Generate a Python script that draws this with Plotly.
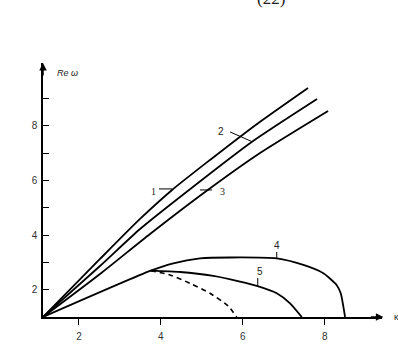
import plotly.graph_objects as go

# Curve data (kappa, Re omega)
c1_x = [1.123, 2.515, 3.492, 4.274, 5.201, 6.349, 7.594]
c1_y = [1.0, 3.125, 4.590, 5.652, 6.751, 8.070, 9.388]
c2_x = [1.123, 2.515, 3.492, 4.469, 6.227, 7.814]
c2_y = [1.0, 2.868, 4.223, 5.396, 7.420, 8.985]
c3_x = [1.123, 2.515, 3.736, 5.079, 6.422, 8.083]
c3_y = [1.0, 2.575, 4.040, 5.579, 7.007, 8.546]
c4_x = [1.123, 3.753, 4.305, 4.957, 5.690, 6.830, 7.480, 7.968, 8.291, 8.393, 8.457, 8.498]
c4_y = [1.0, 2.696, 2.967, 3.143, 3.179, 3.143, 2.905, 2.601, 2.172, 1.868, 1.377, 1.0]
c5_x = [3.753, 4.469, 5.282, 5.934, 6.342, 6.830, 7.155, 7.441]
c5_y = [2.696, 2.648, 2.502, 2.293, 2.136, 1.868, 1.502, 1.0]
cd_x = [3.753, 4.225, 4.713, 5.201, 5.641, 5.853]
cd_y = [2.696, 2.538, 2.234, 1.868, 1.403, 1.0]

x_ticks = [2, 4, 6, 8]
y_ticks = [2, 3, 4, 5, 6, 7, 8, 9]
y_ticktext = ["2", "", "4", "", "6", "", "8", ""]

fig = go.Figure()
line = dict(color="black", width=1.8, shape="spline", smoothing=0.6)
for xs, ys in [(c1_x, c1_y), (c2_x, c2_y), (c3_x, c3_y), (c4_x, c4_y), (c5_x, c5_y)]:
    fig.add_trace(go.Scatter(x=xs, y=ys, mode="lines", line=line, hoverinfo="skip"))
fig.add_trace(go.Scatter(x=cd_x, y=cd_y, mode="lines",
                         line=dict(color="black", width=1.6, dash="5px,4px", shape="spline", smoothing=0.6),
                         hoverinfo="skip"))

# leader lines
leaders = [
    (3.956, 5.689, 4.274, 5.689),
    (5.690, 7.777, 6.227, 7.420),
    (4.957, 5.652, 5.250, 5.652),
    (6.830, 3.381, 6.830, 3.125),
    (6.366, 2.429, 6.366, 2.136),
]
shapes = [dict(type="line", xref="x", yref="y", x0=a, y0=b, x1=c, y1=d,
               line=dict(color="black", width=1)) for a, b, c, d in leaders]

labels = [("1", 3.810, 5.579, "Liberation Serif"), ("2", 5.470, 7.777, "Liberation Sans"),
          ("3", 5.494, 5.579, "Liberation Serif"), ("4", 6.830, 3.601, "Liberation Sans"),
          ("5", 6.422, 2.659, "Liberation Sans")]
annotations = [dict(text=t, x=x, y=y, xref="x", yref="y", showarrow=False,
                    font=dict(family=f, size=10, color="#222")) for t, x, y, f in labels]

# axis arrows
annotations.append(dict(x=1.004, y=0, xref="paper", yref="paper", ax=-14, ay=0,
                        axref="pixel", ayref="pixel", showarrow=True, arrowhead=2,
                        arrowsize=1, arrowwidth=1.5, arrowcolor="black", text=""))
annotations.append(dict(x=0, y=1.0, xref="paper", yref="paper", ax=0, ay=14,
                        axref="pixel", ayref="pixel", showarrow=True, arrowhead=2,
                        arrowsize=1, arrowwidth=1.5, arrowcolor="black", text=""))
# axis titles
annotations.append(dict(text="<i>Re ω</i>", x=0.035, y=0.96, xref="paper", yref="paper",
                        xanchor="left", yanchor="middle", showarrow=False,
                        font=dict(family="Liberation Sans", size=9, color="#222")))
annotations.append(dict(text="κ", x=1.03, y=0.0, xref="paper", yref="paper",
                        xanchor="left", yanchor="middle", showarrow=False,
                        font=dict(family="Liberation Sans", size=9, color="#222")))
# cropped equation number at top
annotations.append(dict(text="(22)", x=268 / 398, y=1.2086, xref="paper", yref="paper",
                        xanchor="center", yanchor="bottom", showarrow=False,
                        font=dict(family="Liberation Serif", size=17, color="#222")))

fig.update_layout(
    width=398, height=346,
    margin=dict(l=43, r=16, t=63, b=29),
    paper_bgcolor="white", plot_bgcolor="white",
    showlegend=False,
    shapes=shapes, annotations=annotations,
    xaxis=dict(range=[1.123, 9.40], showgrid=False, zeroline=False, showline=True,
               automargin=False,
               linecolor="black", linewidth=1.5, ticks="outside", ticklen=6,
               tickcolor="black", tickwidth=1, tickvals=x_ticks,
               ticklabelstandoff=3,
               tickfont=dict(family="Liberation Sans", size=10, color="#333")),
    yaxis=dict(range=[1.0, 10.3], showgrid=False, zeroline=False, showline=True,
               automargin=False,
               linecolor="black", linewidth=1.5, ticks="inside", ticklen=6,
               tickcolor="black", tickwidth=1, tickvals=y_ticks, ticktext=y_ticktext,
               ticklabelstandoff=2,
               tickfont=dict(family="Liberation Sans", size=10, color="#333")),
)

fig.write_html("out.html")
